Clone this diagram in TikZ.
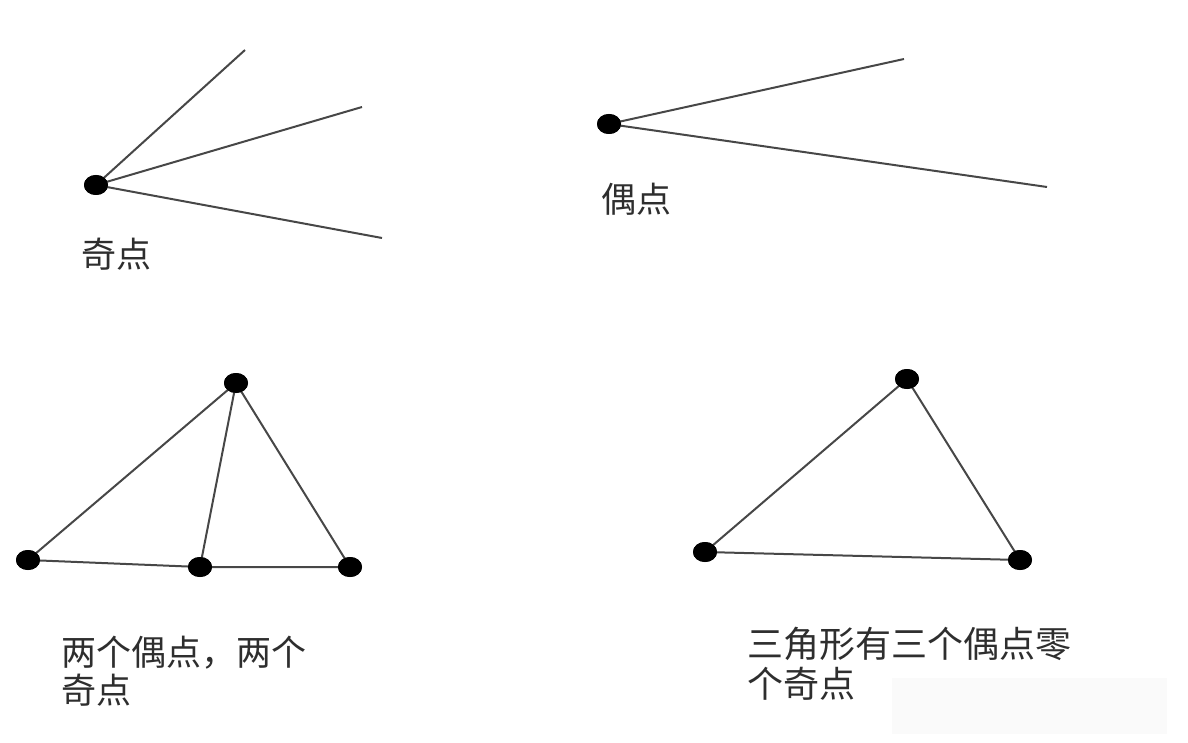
\documentclass[tikz,border=0pt]{standalone}
\usepackage{fontspec}
\usetikzlibrary{shapes.geometric}
\newfontfamily\cjk{Noto Sans CJK SC}
\begin{document}
\begin{tikzpicture}[x=1pt,y=-1pt,
  dot/.style={ellipse,fill=black,minimum width=24pt,minimum height=20pt,inner sep=0pt},
  edge/.style={line width=2pt,draw=black!72},
  lbl/.style={anchor=west,inner sep=0pt,font=\cjk\fontsize{35}{39}\selectfont,text=black!82,align=left}]
\useasboundingbox (0,0) rectangle (1188,743);
\fill[black!2] (892,678) rectangle (1167,734);
% top-left
\coordinate (a1) at (245,50);
\coordinate (a2) at (362,107);
\coordinate (a3) at (382,238);
\node[dot] (A) at (96,185) {};
\draw[edge] (A.center) -- (a1) (A.center) -- (a2) (A.center) -- (a3);
\node[dot] at (96,185) {};
\node[lbl] (tA) at (81,254) {奇点};
% top-right
\coordinate (b1) at (904,59);
\coordinate (b2) at (1047,187);
\node[dot] (B) at (609,124) {};
\draw[edge] (B.center) -- (b1) (B.center) -- (b2);
\node[dot] at (609,124) {};
\node[lbl] (tB) at (601,199) {偶点};
% bottom-left
\node[dot] (C1) at (236,383) {};
\node[dot] (C2) at (28,560) {};
\node[dot] (C3) at (200,567) {};
\node[dot] (C4) at (350,567) {};
\draw[edge] (C1.center) -- (C2.center) -- (C3.center) -- (C4.center) -- (C1.center) -- (C3.center);
\foreach \n in {C1,C2,C3,C4} \node[dot] at (\n) {};
\node[lbl,font=\cjk\fontsize{35}{38}\selectfont] (tC) at (61,671) {两个偶点，两个\\奇点};
% bottom-right
\node[dot] (D1) at (907,379) {};
\node[dot] (D2) at (705,552) {};
\node[dot] (D3) at (1020,560) {};
\draw[edge] (D1.center) -- (D2.center) -- (D3.center) -- cycle;
\foreach \n in {D1,D2,D3} \node[dot] at (\n) {};
\node[lbl,font=\cjk\fontsize{36}{40}\selectfont] (tD) at (747,664) {三角形有三个偶点零\\个奇点};
\end{tikzpicture}
\end{document}
